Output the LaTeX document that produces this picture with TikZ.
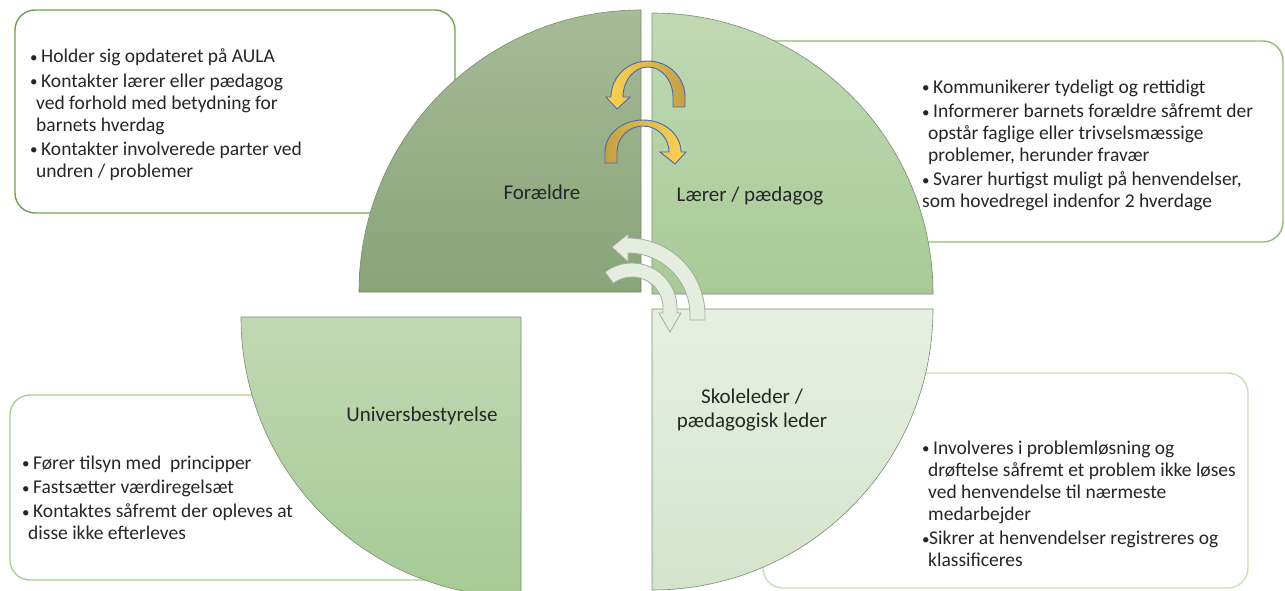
\documentclass[tikz,border=0pt]{standalone}
\usepackage{fontspec}
\setmainfont{Carlito}
\definecolor{txt}{RGB}{38,38,38}
\definecolor{forA}{RGB}{166,187,151}
\definecolor{forB}{RGB}{136,164,120}
\definecolor{larA}{RGB}{192,217,180}
\definecolor{larB}{RGB}{168,203,150}
\definecolor{skoA}{RGB}{231,239,227}
\definecolor{skoB}{RGB}{212,228,203}
\definecolor{uniA}{RGB}{192,217,180}
\definecolor{uniB}{RGB}{166,202,148}
\definecolor{qedge}{RGB}{120,140,110}
\definecolor{bTL}{RGB}{112,160,80}
\definecolor{bTR}{RGB}{140,192,106}
\definecolor{bBL}{RGB}{169,209,142}
\definecolor{bBR}{RGB}{200,223,184}
\definecolor{goldA}{RGB}{255,211,80}
\definecolor{goldB}{RGB}{196,160,68}
\definecolor{goldedge}{RGB}{70,105,180}
\definecolor{pale}{RGB}{228,237,223}
\definecolor{paleedge}{RGB}{165,172,160}
\newcommand\bl{\makebox[11pt][l]{\raisebox{0.5pt}{\fontsize{15}{15}\selectfont •}}}
\newcommand\blt{\makebox[7pt][l]{\raisebox{0.5pt}{\fontsize{15}{15}\selectfont •}}}
\newcommand\ci{\hspace*{6pt}}
\newcommand\fs{\rule{0pt}{16.5pt}}
\tikzset{
  quad/.style={draw=qedge, line width=0.6pt},
  infobox/.style={rounded corners=20pt, line width=1.4pt, fill=white},
  boxtext/.style={anchor=north west, inner sep=0pt, align=left, text=txt,
    font=\fontsize{19.5}{22}\selectfont},
  qlabel/.style={inner sep=0pt, align=center, text=txt,
    font=\fontsize{21}{24}\selectfont},
  goldarrow/.style={draw=goldedge, line width=0.9pt},
  palearrow/.style={draw=paleedge, fill=pale, line width=0.8pt}
}
\begin{document}
\begin{tikzpicture}[x=1pt,y=-1pt]
\useasboundingbox (0,0) rectangle (1285,591);
\fill[white] (0,0) rectangle (1285,591);
% info boxes
\draw[infobox, draw=bTL] (15,10) rectangle (455,213);
\draw[infobox, draw=bTR] (700,41) rectangle (1283,242);
\draw[infobox, draw=bBL] (10,395) rectangle (515,580);
\draw[infobox, draw=bBR] (763,373) rectangle (1248,588);
% quadrants
\path[quad, top color=forA, bottom color=forB]
  (641,292) -- (359,292) arc[start angle=180, end angle=270, radius=282] -- cycle;
\path[quad, top color=larA, bottom color=larB]
  (652,294) -- (652,13) arc[start angle=270, end angle=360, radius=281] -- cycle;
\path[quad, top color=skoA, bottom color=skoB]
  (652,309) -- (933,309) arc[start angle=0, end angle=90, radius=281] -- cycle;
\path[quad, top color=uniA, bottom color=uniB]
  (521,317) -- (521,597) arc[start angle=90, end angle=180, radius=280] -- cycle;
% quadrant labels
\node[qlabel] (foraeldre) at (542,192) {Forældre};
\node[qlabel] (laerer) at (750,196) {Lærer / pædagog};
\node[qlabel] (skoleleder) at (752,410) {Skoleleder /\\pædagogisk leder};
\node[qlabel] (univers) at (422,416) {Universbestyrelse};
% box texts
\node[boxtext] (tTL) at (30,46.2) {\fs\bl Holder sig opdateret på AULA\\[2.3pt]
\bl Kontakter lærer eller pædagog\\
\ci ved forhold med betydning for\\
\ci barnets hverdag\\[2.3pt]
\bl Kontakter involverede parter ved\\
\ci undren / problemer};
\node[boxtext] (tTR) at (922,76.5) {\fs\bl Kommunikerer tydeligt og rettidigt\\[2.3pt]
\bl Informerer barnets forældre såfremt der\\
\ci opstår faglige eller trivselsmæssige\\
\ci problemer, herunder fravær\\[2.3pt]
\bl Svarer hurtigst muligt på henvendelser,\\
som hovedregel indenfor 2 hverdage};
\node[boxtext] (tBL) at (22,452.5) {\fs\bl Fører tilsyn med\ \ principper\\[2.3pt]
\bl Fastsætter værdiregelsæt\\[2.3pt]
\bl Kontaktes såfremt der opleves at\\
\ci disse ikke efterleves};
\node[boxtext] (tBR) at (922,437.5) {\fs\bl Involveres i problemløsning og\\
\ci drøftelse såfremt et problem ikke løses\\
\ci ved henvendelse til nærmeste\\
\ci medarbejder\\[2.3pt]
\blt Sikrer at henvendelser registreres og\\
\ci klassificeres};
% gold arrows
\path[goldarrow, left color=goldA, right color=goldB]
  (685,107) -- (685,97) arc[start angle=0, end angle=-180, x radius=37, y radius=36]
  -- (606,97) -- (617,109) -- (630,97) -- (623,97)
  arc[start angle=-180, end angle=0, x radius=25, y radius=30]
  -- (673,107) -- cycle;
\path[goldarrow, left color=goldB, right color=goldA]
  (605,163) -- (605,152) arc[start angle=180, end angle=360, x radius=38, y radius=32]
  -- (686,152) -- (675,164) -- (660,152) -- (669,152)
  arc[start angle=360, end angle=180, x radius=26, y radius=26]
  -- (617,163) -- cycle;
% pale arrows
\path[palearrow]
  (705,320) -- (705,315) arc[start angle=0, end angle=-90, radius=77]
  -- (628,234) -- (612,247) -- (628,262) -- (628,253)
  arc[start angle=-90, end angle=0, radius=62]
  -- (690,320) -- cycle;
\path[palearrow]
  (604.9,272.1) arc[start angle=-127, end angle=0, radius=45]
  -- (677,313) -- (681,313) -- (670,332) -- (659,313) -- (663,313)
  -- (663,308) arc[start angle=0, end angle=-127, radius=31] -- cycle;
\end{tikzpicture}
\end{document}
